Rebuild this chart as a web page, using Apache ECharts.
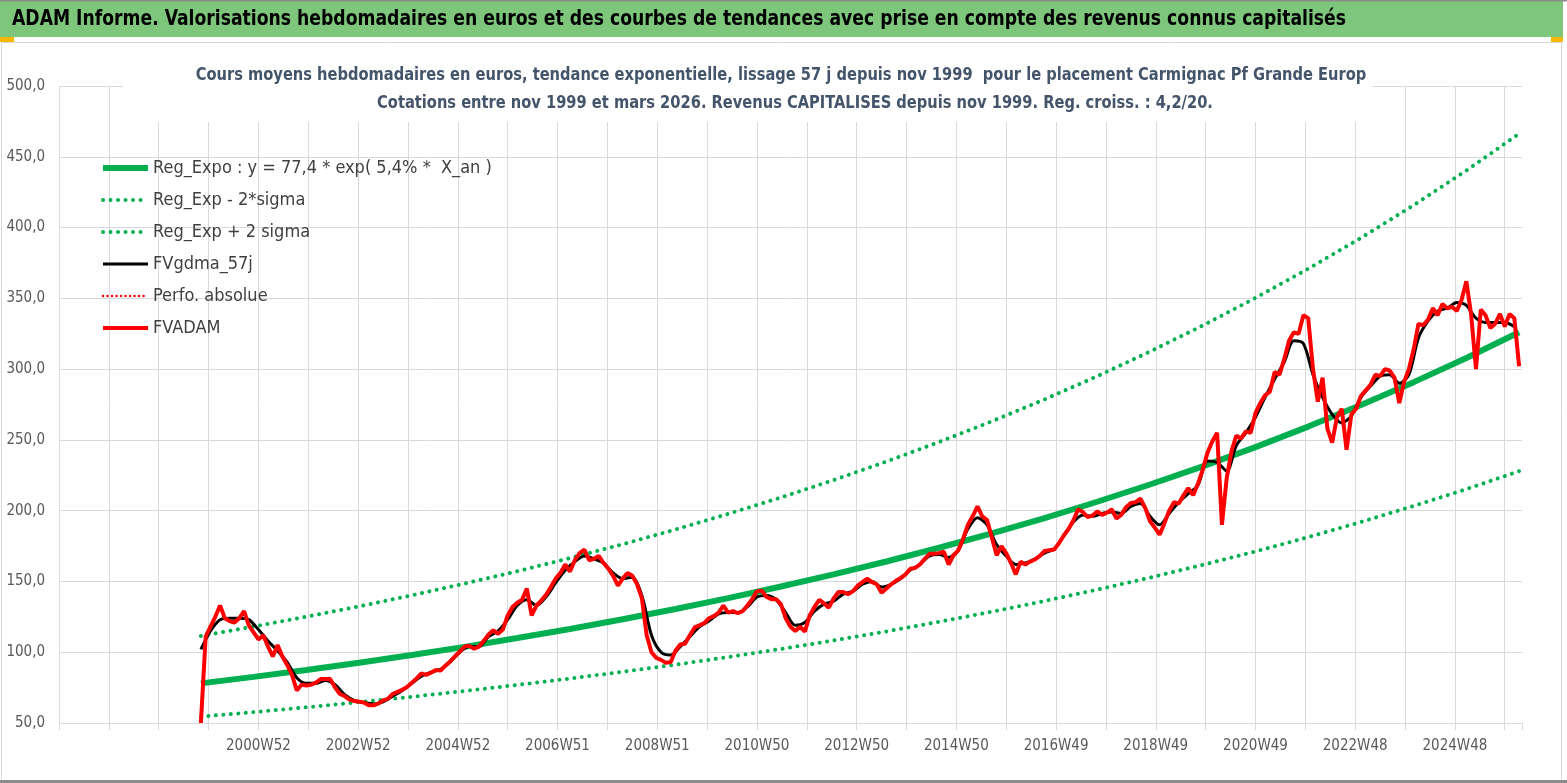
<!DOCTYPE html>
<html lang="fr">
<head>
<meta charset="utf-8" />
<title>ADAM Informe - Carmignac Pf Grande Europ</title>
<script src="https://cdn.jsdelivr.net/npm/echarts@6/dist/echarts.min.js"></script>
<style>
  * { margin: 0; padding: 0; }
  html, body, #chart { width: 100%; height: 100%; overflow: hidden; background: #fff; }
</style>
</head>
<body>
<div id="chart"></div>
<script>
// x is counted in weeks from the left edge of the axis, one gridline every 52 weeks
var firstWeek = 148;   // nov 1999
var redStep = 5;       // FVADAM read every 5 weeks
var blackStep = 10;    // FVgdma_57j read every 10 weeks
var trendStep = 55;    // trend curves read every 55 weeks

var xTickLabels = ['', '', '', '', '2000W52', '', '2002W52', '', '2004W52', '', '2006W51', '',
  '2008W51', '', '2010W50', '', '2012W50', '', '2014W50', '', '2016W49', '', '2018W49', '',
  '2020W49', '', '2022W48', '', '2024W48', ''];

var fvadam = [
  50, 111, 118, 125, 133, 124, 122, 121, 124, 129, 119, 114, 109, 112, 104, 97, 105, 97, 91, 84,
  73, 77, 76.5, 77, 78.5, 81, 81, 81, 75, 70.5, 69, 66.5, 65.5, 65, 64.5, 62.5, 62.5, 63.7, 66, 67,
  70.5, 72, 73.5, 75.5, 78.5, 81.5, 85, 84, 85.5, 87.5, 87, 90.5, 93.5, 97, 100.5, 104, 104.5, 102.5, 104, 108,
  112.5, 115.5, 113, 116, 126, 132, 135, 137, 145, 126, 133, 136.5, 140.5, 146, 152, 156, 162, 157, 165, 170,
  172.5, 165, 166, 168, 163, 159, 154, 147, 152, 156, 154, 148, 138, 112, 100, 96, 94.6, 92.5, 93, 101,
  105.5, 106, 112, 117.5, 119, 120.5, 124, 125.5, 128, 133, 128, 129, 127.5, 129, 133, 137.5, 143, 143.5, 139, 137.5,
  137.5, 134, 124, 118, 115, 118, 114.5, 126, 132, 137, 134.5, 131.5, 138, 142.5, 142.5, 141, 143, 147, 149.5, 152,
  149.5, 148, 142, 145, 148, 150.5, 152.5, 155, 159, 159.5, 162, 166, 169.5, 169.5, 170, 171, 162, 168.5, 172, 180,
  190, 196, 203, 196, 193.5, 181, 168.5, 175, 170, 163, 155, 164, 162, 164, 165.5, 168, 171.5, 172, 172.5, 177,
  182.5, 187, 193, 201, 199, 195.5, 196.5, 199.5, 197, 198.5, 201, 194.5, 197, 202.5, 205.5, 206, 208.5, 202, 192.5, 188,
  183, 191, 200, 206, 205, 211, 216, 211, 219, 229, 241, 249, 255, 190, 223, 242, 253, 251, 256, 255,
  269, 276, 281.5, 284, 298, 296, 307, 320, 326, 325, 338, 336, 300, 277, 294, 258, 248, 266, 272, 243,
  268, 272, 281, 285, 289, 296, 295, 300, 299, 294, 276, 291, 300, 314, 332, 331, 335, 343, 338, 346,
  343, 344, 341, 349, 362, 338, 300, 342, 338, 329, 332, 339, 330, 339, 336, 302
];

var fvgdma = [
  102, 115, 123, 124, 124, 123, 116, 108, 101, 93,
  82, 78, 78, 80, 77, 70, 66, 64.5, 63.5, 65,
  69, 73, 78, 83, 86, 88, 93, 100, 104, 104,
  111, 115, 123, 133, 137, 133, 139, 149, 158, 164,
  168, 166, 163, 156, 152, 153, 140, 112, 100, 98,
  104, 111, 118, 122, 127, 128, 128, 132, 139, 140,
  137, 128, 119, 121, 129, 134, 136, 141, 143, 148,
  150, 146, 148, 152, 158, 162, 168, 169, 167, 172,
  187, 195, 190, 176, 168, 162, 163, 166, 170, 173,
  182, 192, 197, 196, 198, 199, 198, 203, 205, 196,
  190, 198, 206, 212, 218, 235, 234, 228, 246, 255,
  266, 280, 293, 305, 320, 318, 296, 280, 268, 262,
  267, 280, 288, 295, 296, 290, 296, 322, 334, 341,
  343, 347, 345, 336, 333, 333, 333, 330
];

var regExpo = [78.0, 82.6, 87.5, 92.6, 98.1, 103.8, 110.0, 116.4, 123.3, 130.5, 138.2, 146.4, 155.0,
  164.1, 173.8, 184.0, 194.8, 206.3, 218.5, 231.3, 244.9, 259.4, 274.6, 290.8, 307.9, 326.0];
var regLow = [54.5, 57.7, 61.1, 64.7, 68.5, 72.6, 76.9, 81.4, 86.2, 91.2, 96.6, 102.3, 108.3,
  114.7, 121.5, 128.6, 136.2, 144.2, 152.7, 161.7, 171.2, 181.3, 192.0, 203.3, 215.2, 227.9];
var regHigh = [111.5, 118.1, 125.1, 132.4, 140.2, 148.5, 157.2, 166.5, 176.3, 186.7, 197.7, 209.3, 221.6,
  234.7, 248.5, 263.1, 278.6, 295.0, 312.4, 330.8, 350.3, 370.9, 392.7, 415.8, 440.3, 466.3];

var banner = 'ADAM Informe. Valorisations hebdomadaires en euros et des courbes de tendances avec prise en compte des revenus connus capitalisés';
var titleLine1 = 'Cours moyens hebdomadaires en euros, tendance exponentielle, lissage 57 j depuis nov 1999  pour le placement Carmignac Pf Grande Europ';
var titleLine2 = 'Cotations entre nov 1999 et mars 2026. Revenus CAPITALISES depuis nov 1999. Reg. croiss. : 4,2/20.';

var FONT = "'Liberation Sans Narrow', 'DejaVu Sans Condensed', sans-serif";
var GREEN = '#00b050';
var RED = '#ff0000';

function toPairs(values, step) {
  return values.map(function (v, i) { return [firstWeek + i * step, v]; });
}

var dots = { type: [0.01, 7.5], cap: 'round' };

var chart = echarts.init(document.getElementById('chart'));
chart.setOption({
  animation: false,
  backgroundColor: '#fff',
  legend: {
    orient: 'vertical',
    left: 95,
    top: 153,
    itemWidth: 45,
    itemHeight: 14,
    itemGap: 12,
    itemStyle: { opacity: 0 },
    lineStyle: { width: 'inherit' },
    textStyle: { fontFamily: FONT, fontSize: 18, color: '#404040', lineHeight: 20 },
    data: ['Reg_Expo : y = 77,4 * exp( 5,4% *  X_an )', 'Reg_Exp - 2*sigma', 'Reg_Exp + 2 sigma',
      'FVgdma_57j', 'Perfo. absolue', 'FVADAM']
  },
  grid: { left: 59, right: 45, top: 86, bottom: 60 },
  xAxis: {
    type: 'value',
    min: 0,
    max: 1526,
    interval: 52,
    axisLine: { show: true, lineStyle: { color: '#d9d9d9', width: 1 } },
    axisTick: { show: true, length: 7, lineStyle: { color: '#d9d9d9' } },
    axisLabel: {
      fontFamily: FONT, fontSize: 15, color: '#595959', margin: 16,
      formatter: function (v) { return xTickLabels[Math.round(v / 52)] || ''; }
    },
    splitLine: { show: true, showMaxLine: false, lineStyle: { color: '#d9d9d9' } }
  },
  yAxis: {
    type: 'value',
    min: 50,
    max: 500,
    interval: 50,
    axisLine: { show: false },
    axisTick: { show: false },
    axisLabel: {
      fontFamily: FONT, fontSize: 15, color: '#595959', margin: 14,
      formatter: function (v) { return v.toFixed(1).replace('.', ','); }
    },
    splitLine: { lineStyle: { color: '#d9d9d9' } }
  },
  series: [
    {
      name: 'Reg_Expo : y = 77,4 * exp( 5,4% *  X_an )', type: 'line', symbol: 'none',
      data: toPairs(regExpo, trendStep), lineStyle: { color: GREEN, width: 6 }, itemStyle: { color: GREEN }
    },
    {
      name: 'Reg_Exp - 2*sigma', type: 'line', symbol: 'none',
      data: toPairs(regLow, trendStep),
      lineStyle: Object.assign({ color: GREEN, width: 4 }, dots), itemStyle: { color: GREEN }
    },
    {
      name: 'Reg_Exp + 2 sigma', type: 'line', symbol: 'none',
      data: toPairs(regHigh, trendStep),
      lineStyle: Object.assign({ color: GREEN, width: 4 }, dots), itemStyle: { color: GREEN }
    },
    {
      name: 'FVgdma_57j', type: 'line', symbol: 'none', smooth: 0.3,
      data: toPairs(fvgdma, blackStep), lineStyle: { color: '#000', width: 3 }, itemStyle: { color: '#000' }
    },
    {
      name: 'Perfo. absolue', type: 'line', symbol: 'none', data: [],
      lineStyle: { color: RED, width: 2.5, type: [0.01, 4.5], cap: 'round' }, itemStyle: { color: RED }
    },
    {
      name: 'FVADAM', type: 'line', symbol: 'none',
      data: toPairs(fvadam, redStep), lineStyle: { color: RED, width: 4 }, itemStyle: { color: RED }
    }
  ],
  graphic: [
    { type: 'rect', shape: { x: 0, y: 0, width: 1563, height: 37 }, style: { fill: '#7dc67b' }, silent: true },
    { type: 'rect', shape: { x: 0, y: 0, width: 1567, height: 1.5 }, style: { fill: '#8c8c8c' }, silent: true },
    {
      type: 'text', x: 12, y: 19, scaleX: 0.87,
      style: { text: banner, font: 'bold 22px ' + FONT, fill: '#000', verticalAlign: 'middle' }
    },
    { type: 'rect', shape: { x: 1.5, y: 42.5, width: 1560, height: 738 }, style: { fill: 'none', stroke: '#d9d9d9', lineWidth: 1 }, silent: true },
    { type: 'rect', shape: { x: 0, y: 780, width: 1567, height: 3 }, style: { fill: '#8c8c8c' }, silent: true },
    { type: 'rect', shape: { x: 0, y: 37, width: 14, height: 5 }, style: { fill: '#f5b800' }, silent: true },
    { type: 'rect', shape: { x: 1551, y: 37, width: 12, height: 5 }, style: { fill: '#f5b800' }, silent: true },
    // white box behind the chart title, hiding the gridlines as in the original
    { type: 'rect', shape: { x: 123, y: 58, width: 1249, height: 64 }, style: { fill: '#fff' }, silent: true, z: 10 },
    {
      type: 'text', x: 781, y: 75, scaleX: 0.905, z: 11,
      style: { text: titleLine1, font: 'bold 18px ' + FONT, fill: '#44546a', align: 'center', verticalAlign: 'middle' }
    },
    {
      type: 'text', x: 795, y: 103, scaleX: 0.905, z: 11,
      style: { text: titleLine2, font: 'bold 18px ' + FONT, fill: '#44546a', align: 'center', verticalAlign: 'middle' }
    }
  ]
});
</script>
</body>
</html>
